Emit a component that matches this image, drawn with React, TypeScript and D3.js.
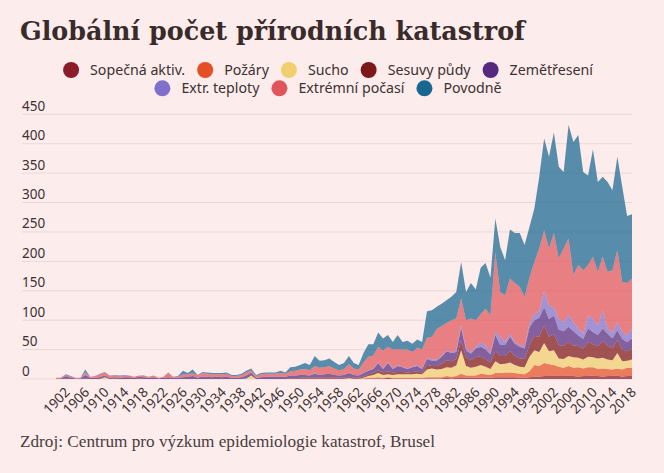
import * as d3 from "d3";
import { useEffect, useRef } from "react";

const firstYear = 1900;
const lastYear = 2018;
const years = d3.range(firstYear, lastYear + 1);

const seriesKeys = ["volcanic", "fires", "drought", "landslides", "earthquakes", "temps", "weather", "floods"];
const seriesNames = ["Sopečná aktiv.", "Požáry", "Sucho", "Sesuvy půdy", "Zemětřesení", "Extr. teploty", "Extrémní počasí", "Povodně"];
const seriesColors = ["#8b1c2a", "#e54f26", "#f0cf6e", "#7e1719", "#55297f", "#8070cc", "#e0545a", "#176790"];

// counts per year, 1900 .. 2018
const volcanic = [
  0, 0, 1, 0, 0, 0, 1, 0, 0, 0,
  0, 0, 1, 0, 0, 0, 0, 1, 0, 0,
  0, 0, 0, 0, 0, 0, 0, 0, 0, 0,
  0, 0, 0, 0, 0, 0, 0, 0, 0, 0,
  0, 0, 0, 0, 0, 0, 0, 0, 0, 0,
  1, 1, 1, 1, 1, 1, 1, 1, 1, 1,
  1, 1, 1, 1, 1, 1, 1, 1, 2, 1,
  1, 1, 1, 1, 1, 1, 1, 1, 1, 1,
  2, 1, 2, 3, 2, 2, 2, 2, 2, 2,
  3, 3, 3, 3, 3, 2, 2, 3, 4, 4,
  5, 5, 6, 5, 5, 6, 5, 4, 5, 5,
  6, 5, 4, 5, 5, 6, 4, 5, 5,
];
const fires = [
  0, 0, 0, 0, 0, 0, 0, 0, 0, 0,
  0, 0, 0, 0, 0, 0, 0, 0, 0, 0,
  0, 0, 0, 0, 0, 0, 0, 0, 0, 0,
  0, 0, 0, 0, 0, 0, 0, 0, 0, 0,
  0, 0, 0, 0, 0, 0, 0, 0, 0, 0,
  0, 0, 0, 0, 0, 0, 0, 0, 0, 0,
  0, 0, 0, 0, 1, 1, 2, 1, 1, 1,
  1, 1, 1, 1, 1, 1, 2, 2, 2, 2,
  3, 3, 3, 6, 4, 4, 4, 7, 6, 5,
  7, 7, 8, 8, 7, 7, 6, 10, 20, 18,
  22, 20, 18, 16, 14, 16, 14, 16, 13, 15,
  14, 12, 14, 12, 11, 12, 12, 14, 14,
];
const drought = [
  0, 0, 0, 0, 0, 0, 0, 0, 0, 0,
  3, 0, 0, 0, 0, 0, 0, 0, 0, 0,
  0, 0, 0, 0, 0, 0, 0, 0, 0, 0,
  0, 0, 0, 0, 0, 0, 0, 0, 0, 1,
  6, 0, 0, 0, 0, 0, 0, 0, 0, 0,
  0, 0, 0, 0, 0, 0, 0, 0, 0, 0,
  1, 0, 0, 1, 3, 5, 7, 5, 5, 5,
  6, 6, 6, 6, 7, 6, 13, 15, 13, 14,
  15, 15, 18, 40, 16, 13, 15, 15, 13, 10,
  20, 15, 15, 17, 14, 12, 12, 25, 25, 24,
  34, 22, 25, 14, 15, 17, 18, 16, 15, 18,
  17, 18, 18, 16, 16, 26, 14, 12, 14,
];
const landslides = [
  0, 0, 0, 0, 0, 0, 0, 0, 0, 0,
  0, 0, 0, 0, 0, 0, 0, 0, 0, 0,
  0, 0, 0, 0, 0, 0, 0, 0, 0, 0,
  0, 0, 0, 0, 0, 0, 0, 0, 0, 0,
  0, 0, 0, 0, 0, 0, 0, 0, 1, 1,
  1, 1, 1, 2, 1, 2, 2, 1, 1, 1,
  2, 1, 1, 2, 3, 3, 5, 4, 5, 4,
  4, 4, 3, 4, 4, 3, 8, 4, 6, 9,
  12, 11, 11, 17, 15, 13, 17, 14, 13, 11,
  18, 14, 13, 20, 15, 14, 14, 20, 24, 26,
  30, 25, 27, 23, 22, 24, 20, 20, 19, 25,
  22, 21, 28, 24, 20, 22, 20, 16, 18,
];
const earthquakes = [
  1, 1, 4, 2, 1, 1, 6, 2, 2, 3,
  3, 2, 2, 2, 3, 3, 2, 3, 3, 2,
  3, 1, 2, 3, 2, 2, 3, 4, 5, 2,
  4, 4, 3, 4, 3, 4, 2, 2, 3, 5,
  5, 2, 3, 4, 4, 4, 4, 4, 5, 5,
  5, 5, 4, 6, 5, 5, 6, 5, 4, 5,
  6, 5, 4, 6, 6, 7, 12, 6, 14, 6,
  10, 8, 6, 8, 9, 6, 10, 9, 9, 12,
  15, 14, 12, 21, 12, 11, 14, 17, 16, 14,
  27, 19, 19, 24, 21, 20, 18, 30, 27, 32,
  31, 30, 32, 26, 25, 26, 24, 18, 16, 23,
  21, 19, 22, 20, 17, 17, 18, 16, 18,
];
const temps = [
  0, 0, 0, 0, 0, 0, 1, 0, 0, 0,
  0, 0, 0, 0, 0, 0, 0, 0, 0, 0,
  0, 0, 0, 0, 0, 0, 0, 0, 0, 0,
  0, 0, 0, 0, 0, 0, 0, 0, 0, 0,
  0, 0, 0, 0, 0, 0, 0, 0, 0, 0,
  0, 0, 0, 1, 0, 0, 0, 0, 0, 0,
  1, 0, 0, 1, 1, 1, 2, 1, 2, 1,
  2, 1, 1, 1, 2, 1, 2, 2, 2, 2,
  2, 2, 3, 5, 3, 3, 3, 7, 8, 3,
  5, 14, 5, 5, 3, 3, 3, 7, 10, 11,
  28, 23, 14, 18, 16, 20, 16, 12, 9, 22,
  22, 16, 31, 9, 11, 14, 12, 11, 17,
];
const weather = [
  1, 1, 2, 2, 1, 1, 4, 2, 3, 5,
  5, 4, 3, 3, 3, 3, 2, 2, 2, 2,
  3, 1, 2, 7, 2, 2, 5, 4, 5, 4,
  6, 5, 5, 4, 5, 5, 3, 3, 4, 5,
  4, 3, 5, 5, 5, 5, 6, 5, 7, 8,
  9, 10, 9, 12, 12, 12, 13, 11, 9, 10,
  14, 11, 10, 17, 23, 22, 26, 30, 26, 32,
  27, 29, 32, 25, 29, 32, 34, 39, 52, 50,
  46, 54, 54, 45, 48, 57, 45, 48, 62, 63,
  135, 76, 79, 94, 100, 99, 85, 77, 89, 107,
  103, 97, 126, 103, 125, 130, 80, 108, 108, 86,
  106, 91, 91, 96, 105, 122, 85, 89, 85,
];
const floods = [
  0, 0, 1, 1, 0, 0, 4, 0, 0, 1,
  1, 0, 1, 1, 1, 0, 0, 0, 1, 0,
  0, 0, 0, 1, 0, 1, 6, 2, 6, 1,
  2, 2, 2, 2, 2, 2, 2, 2, 2, 3,
  3, 2, 2, 2, 2, 2, 4, 2, 7, 7,
  8, 10, 9, 17, 12, 12, 13, 11, 9, 10,
  14, 9, 8, 16, 21, 19, 24, 21, 20, 13,
  24, 13, 15, 14, 14, 13, 45, 45, 38, 38,
  39, 40, 45, 62, 48, 60, 52, 79, 77, 64,
  58, 77, 60, 83, 85, 91, 88, 87, 91, 122,
  156, 156, 171, 156, 130, 193, 226, 221, 167, 152,
  182, 153, 136, 153, 136, 159, 162, 114, 109,
];

const seriesValues = [volcanic, fires, drought, landslides, earthquakes, temps, weather, floods];

const yTicks = [0, 50, 100, 150, 200, 250, 300, 350, 400, 450];
const xTickYears = [
  1902, 1906, 1910, 1914, 1918, 1922, 1926, 1930, 1934, 1938,
  1942, 1946, 1950, 1954, 1958, 1962, 1966, 1970, 1974, 1978,
  1982, 1986, 1990, 1994, 1998, 2002, 2006, 2010, 2014, 2018,
];

const legendRows = [[0, 1, 2, 3, 4], [5, 6, 7]];

export default function App() {
  const ref = useRef<SVGSVGElement>(null);

  useEffect(() => {
    const width = 664;
    const height = 473;
    const left = 56;
    const right = 632;
    const top = 114.3;
    const bottom = 379;
    const gridLeft = 22;
    const sans = "'Noto Sans', sans-serif";
    const serif = "'Liberation Serif', serif";
    const ink = "#3d3131";

    const svg = d3.select(ref.current);
    svg.selectAll("*").remove();
    svg.attr("width", width).attr("height", height);

    svg.append("rect").attr("width", width).attr("height", height).attr("fill", "#fcecec");

    /* ---------------- TITLE ---------------- */
    svg.append("text")
      .attr("x", 20)
      .attr("y", 40)
      .attr("font-family", "'DejaVu Serif', serif")
      .attr("font-weight", 700)
      .attr("font-size", 26)
      .attr("textLength", 505)
      .attr("lengthAdjust", "spacingAndGlyphs")
      .attr("fill", "#3a2b2b")
      .text("Globální počet přírodních katastrof");

    /* ---------------- LEGEND ---------------- */
    const legendCenter = 328;
    const rowY = [70, 88.3];
    legendRows.forEach((row, r) => {
      const g = svg.append("g");
      let cursor = 0;
      row.forEach((idx) => {
        const item = g.append("g").attr("transform", `translate(${cursor},0)`);
        item.append("circle").attr("cx", 8).attr("cy", 0).attr("r", 8).attr("fill", seriesColors[idx]);
        const t = item.append("text")
          .attr("x", 27)
          .attr("y", 5)
          .attr("font-family", sans)
          .attr("font-size", 14.2)
          .attr("fill", ink)
          .text(seriesNames[idx]);
        const w = (t.node() as SVGTextElement).getComputedTextLength();
        cursor += 27 + w + 12;
      });
      const total = cursor - 12;
      g.attr("transform", `translate(${legendCenter - total / 2},${rowY[r]})`);
    });

    /* ---------------- SCALES ---------------- */
    const x = d3.scaleLinear().domain([firstYear, lastYear]).range([left, right]);
    const y = d3.scaleLinear().domain([0, 450]).range([bottom, top]);

    /* ---------------- GRID + Y LABELS ---------------- */
    const grid = svg.append("g");
    yTicks.forEach((v) => {
      grid.append("line")
        .attr("x1", gridLeft)
        .attr("x2", right)
        .attr("y1", y(v))
        .attr("y2", y(v))
        .attr("stroke", "#ebd8d8")
        .attr("stroke-width", 1);
      grid.append("text")
        .attr("x", gridLeft)
        .attr("y", y(v) - 3.5)
        .attr("font-family", sans)
        .attr("font-size", 13.5)
        .attr("fill", ink)
        .text(v);
    });

    /* ---------------- STACKED AREAS ---------------- */
    const rows = years.map((yr, i) => {
      const row: any = { year: yr };
      seriesKeys.forEach((k, j) => (row[k] = seriesValues[j][i]));
      return row;
    });
    const stacked = d3.stack<any>().keys(seriesKeys)(rows);
    const area = d3.area<any>()
      .x((d) => x(d.data.year))
      .y0((d) => y(d[0]))
      .y1((d) => y(d[1]));

    svg.append("g")
      .selectAll("path")
      .data(stacked)
      .enter()
      .append("path")
      .attr("d", area)
      .attr("fill", (_, i) => seriesColors[i])
      .attr("fill-opacity", 0.72);

    /* ---------------- X LABELS ---------------- */
    svg.append("g")
      .selectAll("text")
      .data(xTickYears)
      .enter()
      .append("text")
      .attr("transform", (d) => `translate(${x(d) + 5},${bottom + 14}) rotate(-45)`)
      .attr("text-anchor", "end")
      .attr("font-family", sans)
      .attr("font-size", 13.5)
      .attr("fill", ink)
      .text((d) => d);

    /* ---------------- SOURCE ---------------- */
    svg.append("text")
      .attr("x", 20)
      .attr("y", 447)
      .attr("font-family", serif)
      .attr("font-size", 16.5)
      .attr("textLength", 415)
      .attr("lengthAdjust", "spacingAndGlyphs")
      .attr("fill", "#4a3c3c")
      .text("Zdroj: Centrum pro výzkum epidemiologie katastrof, Brusel");
  }, []);

  return <svg ref={ref} style={{ position: "absolute", left: 0, top: 0, display: "block" }} />;
}
